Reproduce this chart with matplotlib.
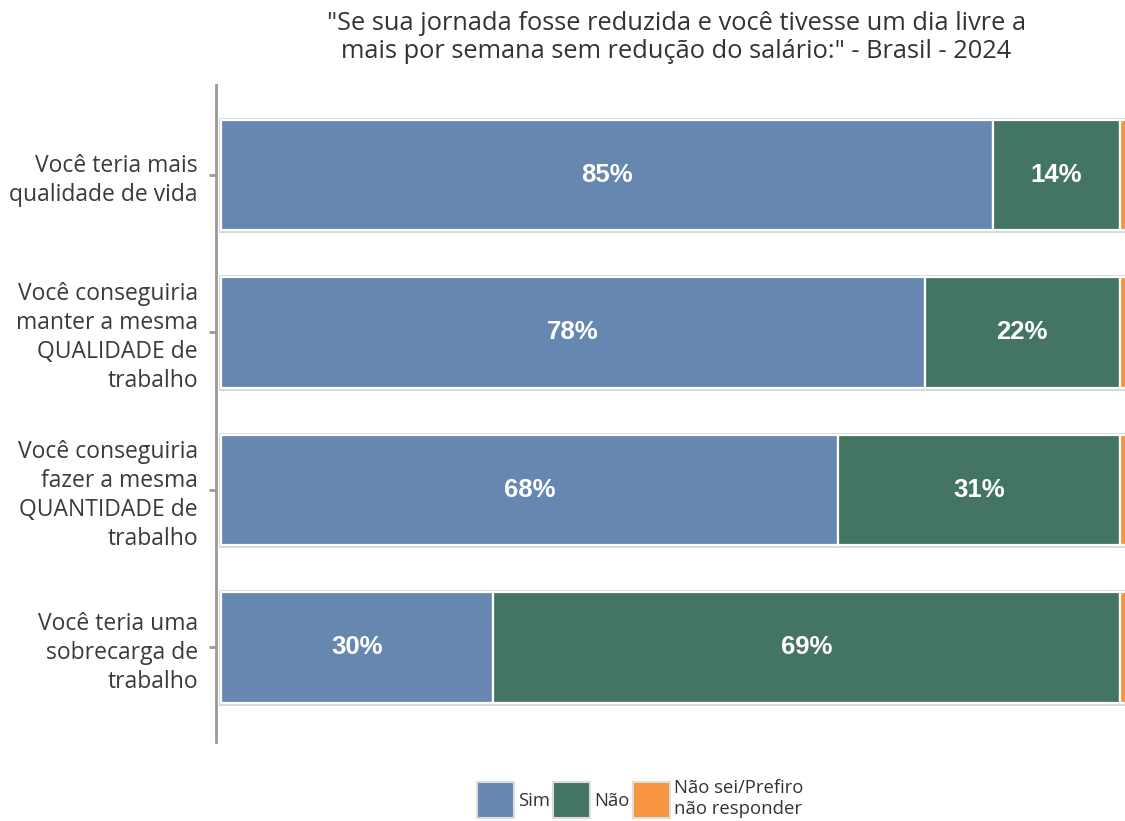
import numpy as np
import matplotlib.pyplot as plt
from matplotlib.patches import Patch

# data
categories = [
    "Você teria mais\nqualidade de vida",
    "Você conseguiria\nmanter a mesma\nQUALIDADE de\ntrabalho",
    "Você conseguiria\nfazer a mesma\nQUANTIDADE de\ntrabalho",
    "Você teria uma\nsobrecarga de\ntrabalho",
]
sim = [85, 77.5, 68, 30]
nao = [14, 21.5, 31, 69]
nao_sei = [1, 1, 1, 1]
series_names = ["Sim", "Não", "Não sei/Prefiro\nnão responder"]
colors = ["#6688b0", "#447563", "#f79540"]

title = '"Se sua jornada fosse reduzida e você tivesse um dia livre a\nmais por semana sem redução do salário:" - Brasil - 2024'

plt.rcParams['font.family'] = ['Open Sans', 'DejaVu Sans']

fig = plt.figure(figsize=(11.25, 8.21), dpi=100)
ax = fig.add_axes([216 / 1125, 79 / 821, 913 / 1125, 657 / 821])

y = np.arange(len(categories))
left = np.zeros(len(categories))
for vals, col in zip([sim, nao, nao_sei], colors):
    vals = np.array(vals, dtype=float)
    # grey outline under a white edge
    ax.barh(y, vals, left=left, height=0.7, color=col, edgecolor="#d6d6d6", linewidth=3.5, zorder=2)
    ax.barh(y, vals, left=left, height=0.7, color=col, edgecolor="white", linewidth=1.6, zorder=3)
    if col != colors[2]:
        for yi, l, v in zip(y, left, vals):
            ax.text(l + v / 2, yi, f"{round(v)}%", ha="center", va="center", color="white",
                    fontsize=18.5, fontweight="bold", family="Liberation Sans", zorder=4)
    left += vals

ax.set_xlim(-0.55, 100)
ax.set_ylim(3.6, -0.57)
ax.set_yticks(y)
ax.set_yticklabels(categories, fontsize=16.5, color="#3a3a3a", linespacing=1.27)
ax.set_xticks([])
for s in ["top", "right", "bottom"]:
    ax.spines[s].set_visible(False)
ax.spines["left"].set_color("#999999")
ax.spines["left"].set_linewidth(2)
ax.tick_params(axis="y", length=5, width=2, color="#999999", pad=8)

fig.text(0.601, 0.987, title, ha="center", va="top", fontsize=18.3, color="#333333", linespacing=1.2)

handles = [Patch(facecolor=c, edgecolor="#dddddd", linewidth=1.5) for c in colors]
fig.legend(handles, series_names, loc="center", bbox_to_anchor=(0.569, 0.027), ncol=3,
           frameon=False, fontsize=13.3, handlelength=2.0, handleheight=2.6,
           handletextpad=0.2, columnspacing=0.2, labelcolor="#333333")

fig.savefig("out.png", dpi=100)
